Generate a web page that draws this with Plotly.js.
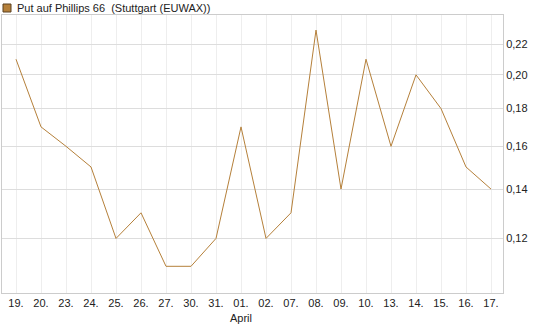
<!DOCTYPE html>
<html>
<head>
<meta charset="utf-8">
<script src="https://cdn.plot.ly/plotly-3.0.1.min.js"></script>
<style>html,body{margin:0;padding:0;background:#fff;}#chart{width:545px;height:327px;}</style>
</head>
<body>
<div id="chart"></div>
<script>
const dates = ["19.","20.","23.","24.","25.","26.","27.","30.","31.","01.","02.","07.","08.","09.","10.","13.","14.","15.","16.","17."];
const tickLabels = ["19.","20.","23.","24.","25.","26.","27.","30.","31.","01.<br>April","02.","07.","08.","09.","10.","13.","14.","15.","16.","17."];
const values = [0.21,0.17,0.16,0.15,0.12,0.13,0.11,0.11,0.12,0.17,0.12,0.13,0.23,0.14,0.21,0.16,0.20,0.18,0.15,0.14];
const yTicks = [0.12,0.14,0.16,0.18,0.20,0.22];
const yTickText = ["0,12","0,14","0,16","0,18","0,20","0,22"];
const seriesName = "Put auf Phillips 66  (Stuttgart (EUWAX))";

const idx = dates.map((d,i)=>i);
const W=545,H=327,L=2,R=42,T=15,B=34;
const pw=W-L-R, ph=H-T-B;
const px=(x)=>(x-L)/pw, py=(y)=>(H-B-y)/ph;

const trace = {x: idx, y: values, type:'scatter', mode:'lines',
  line:{color:'#b5803a', width:1}, hoverinfo:'skip', showlegend:false};

const layout = {
  width:W, height:H,
  margin:{l:L,r:R,t:T,b:B,pad:0},
  paper_bgcolor:'#fff', plot_bgcolor:'#fff',
  font:{family:'"Liberation Sans", Arial, sans-serif', size:11, color:'#222'},
  showlegend:false,
  xaxis:{range:[-0.56,19.48], tickvals:idx, ticktext:tickLabels, tickangle:0,
    showgrid:true, gridcolor:'#eeeeee', gridwidth:1, zeroline:false,
    showline:true, linecolor:'#cccccc', linewidth:1, mirror:true, ticks:'', fixedrange:true},
  yaxis:{type:'log', side:'right', range:[Math.log10(0.1012), Math.log10(0.2411)],
    tickvals:yTicks, ticktext:yTickText, showgrid:true, gridcolor:'#dddddd', gridwidth:1,
    zeroline:false, showline:true, linecolor:'#cccccc', linewidth:1, mirror:true, ticks:'', fixedrange:true},
  shapes:[{type:'rect', xref:'paper', yref:'paper', x0:px(3), x1:px(11), y0:py(12), y1:py(4),
    fillcolor:'#b5803a', line:{color:'#5a4020', width:1}}],
  annotations:[{xref:'paper', yref:'paper', x:px(15), y:py(8), xanchor:'left', yanchor:'middle',
    text:seriesName, showarrow:false, font:{size:11, color:'#222'}}]
};
Plotly.newPlot('chart',[trace],layout,{displayModeBar:false, staticPlot:true});
</script>
</body>
</html>
